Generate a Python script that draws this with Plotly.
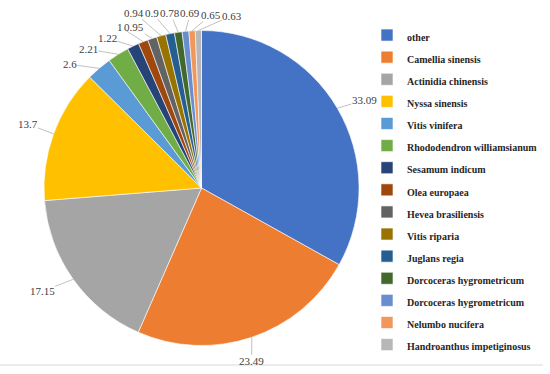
import math
import plotly.graph_objects as go

species = ["other", "Camellia sinensis", "Actinidia chinensis", "Nyssa sinensis",
           "Vitis vinifera", "Rhododendron williamsianum", "Sesamum indicum",
           "Olea europaea", "Hevea brasiliensis", "Vitis riparia", "Juglans regia",
           "Dorcoceras hygrometricum", "Dorcoceras hygrometricum ", "Nelumbo nucifera",
           "Handroanthus impetiginosus"]
percent = [33.09, 23.49, 17.15, 13.7, 2.6, 2.21, 1.22, 1, 0.95, 0.94, 0.9, 0.78, 0.69, 0.65, 0.63]
colors = ["#4472C4", "#ED7D31", "#A5A5A5", "#FFC000", "#5B9BD5", "#70AD47", "#264478",
          "#9E480E", "#636363", "#997300", "#255E91", "#43682B", "#698ED0", "#F1975A", "#B7B7B7"]

# label placement (pixel offsets of each value label from its slice's outer edge)
label_dx = [27, 0, -31, -26, -29, -30, -26, -23, -18, -27, -18, -8, 5, 19, 34]
label_dy = [-8, 24, 12, -10, -4, -5, -8, -15, -11, -23, -21, -19, -18, -16, -15]

W, H = 550, 374
ML, MR, MT, MB = 0, 0, 19, 8
DOM_X = [0.0664, 0.6664]
DOM_Y = [0.059, 0.9669]
SERIF = "Liberation Serif, Times New Roman, serif"

pw, ph = W - ML - MR, H - MT - MB
dom_w = (DOM_X[1] - DOM_X[0]) * pw
dom_h = (DOM_Y[1] - DOM_Y[0]) * ph
radius = min(dom_w, dom_h) / 2
cx = (DOM_X[0] + DOM_X[1]) / 2
cy = (DOM_Y[0] + DOM_Y[1]) / 2

legend_labels = ["<span style='font-size:10px'>%s</span>" % s for s in species]

fig = go.Figure(go.Pie(
    labels=legend_labels,
    values=percent,
    sort=False,
    direction="clockwise",
    rotation=0,
    marker=dict(colors=colors, line=dict(color="white", width=0.6)),
    textinfo="none",
    automargin=False,
    domain=dict(x=DOM_X, y=DOM_Y),
    hovertemplate="%{label}: %{value}<extra></extra>",
))

total = sum(percent)
cum = 0.0
annotations = []
for v, dx, dy in zip(percent, label_dx, label_dy):
    mid = (cum + v / 2) / total * 2 * math.pi
    cum += v
    ex = cx + radius * math.sin(mid) / pw
    ey = cy + radius * math.cos(mid) / ph
    annotations.append(dict(
        x=ex, y=ey, xref="paper", yref="paper",
        text=str(v), showarrow=True, ax=dx, ay=dy,
        arrowhead=0, arrowwidth=0.7, arrowcolor="#A6A6A6", standoff=0,
        font=dict(family=SERIF, size=11, color="#404040"),
        borderpad=0,
    ))

fig.update_layout(
    width=W, height=H,
    margin=dict(l=ML, r=MR, t=MT, b=MB),
    paper_bgcolor="white",
    plot_bgcolor="white",
    showlegend=True,
    legend=dict(
        x=0.6673, y=1.0, xanchor="left", yanchor="top",
        font=dict(family=SERIF, size=14.7, color="#262626", weight="bold"),
        traceorder="normal",
        itemclick=False,
    ),
    annotations=annotations,
    shapes=[dict(type="line", xref="paper", yref="paper", x0=0, x1=0.987,
                 y0=(MB - 7) / ph, y1=(MB - 7) / ph,
                 line=dict(color="#D9D9D9", width=1))],
)

fig.write_html("out.html", config={"displayModeBar": False},
               post_script="document.body.style.margin='0px';")
